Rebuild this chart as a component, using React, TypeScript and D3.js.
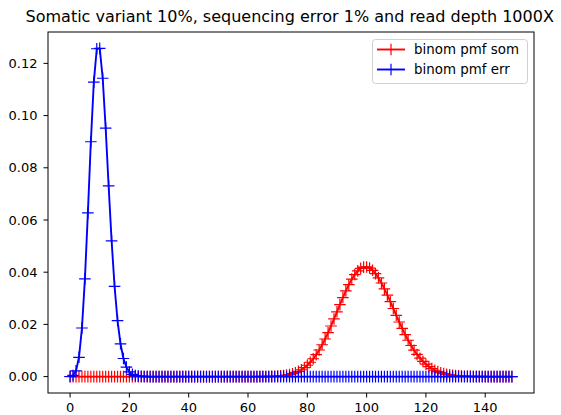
import { useEffect, useRef } from 'react';
import * as d3 from 'd3';

// read counts k = 0..149
const readCounts = d3.range(0, 150);

// binom pmf, somatic variant 10%, depth 1000
const pmfSom = [
  0, 0, 0, 0, 0, 0, 0, 0, 0, 0,
  0, 0, 0, 0, 0, 0, 0, 0, 0, 0,
  0, 0, 0, 0, 0, 0, 0, 0, 0, 0,
  0, 0, 0, 0, 0, 0, 0, 0, 0, 0,
  0, 0, 0, 0, 0, 0, 0, 0, 0, 0,
  0, 0, 0, 0, 0, 0, 0, 0, 0, 0,
  0, 0, 0, 0, 0.00001, 0.00002, 0.00004, 0.00006, 0.00009, 0.00013,
  0.0002, 0.00029, 0.00041, 0.00058, 0.00081, 0.00111, 0.0015, 0.00199, 0.00262, 0.0034,
  0.00435, 0.00549, 0.00683, 0.00839, 0.01018, 0.01219, 0.01441, 0.01682, 0.01939, 0.02208,
  0.02483, 0.02759, 0.03029, 0.03286, 0.03523, 0.03733, 0.0391, 0.04049, 0.04145, 0.04196,
  0.04201, 0.04159, 0.04073, 0.03946, 0.03782, 0.03585, 0.03364, 0.03123, 0.02869, 0.02609,
  0.02348, 0.02092, 0.01845, 0.01611, 0.01393, 0.01192, 0.01011, 0.00848, 0.00705, 0.00581,
  0.00474, 0.00383, 0.00307, 0.00243, 0.00191, 0.00149, 0.00115, 0.00088, 0.00067, 0.0005,
  0.00037, 0.00028, 0.0002, 0.00015, 0.00011, 0.00008, 0.00005, 0.00004, 0.00003, 0.00002,
  0.00001, 0, 0, 0, 0, 0, 0, 0, 0, 0,
];

// binom pmf, sequencing error 1%, depth 1000
const pmfErr = [
  0.00004, 0.00044, 0.0022, 0.00739, 0.01861, 0.03745, 0.06273, 0.08998, 0.11282, 0.12561,
  0.12574, 0.11431, 0.09516, 0.07305, 0.05202, 0.03454, 0.02148, 0.01256, 0.00693, 0.00362,
  0.00179, 0.00084, 0.00038, 0.00016, 0.00007, 0.00003, 0.00001, 0, 0, 0,
  0, 0, 0, 0, 0, 0, 0, 0, 0, 0,
  0, 0, 0, 0, 0, 0, 0, 0, 0, 0,
  0, 0, 0, 0, 0, 0, 0, 0, 0, 0,
  0, 0, 0, 0, 0, 0, 0, 0, 0, 0,
  0, 0, 0, 0, 0, 0, 0, 0, 0, 0,
  0, 0, 0, 0, 0, 0, 0, 0, 0, 0,
  0, 0, 0, 0, 0, 0, 0, 0, 0, 0,
  0, 0, 0, 0, 0, 0, 0, 0, 0, 0,
  0, 0, 0, 0, 0, 0, 0, 0, 0, 0,
  0, 0, 0, 0, 0, 0, 0, 0, 0, 0,
  0, 0, 0, 0, 0, 0, 0, 0, 0, 0,
  0, 0, 0, 0, 0, 0, 0, 0, 0, 0,
];

const xTicks = [0, 20, 40, 60, 80, 100, 120, 140];
const yTicks = [0, 0.02, 0.04, 0.06, 0.08, 0.1, 0.12];

const seriesList = [
  { name: 'binom pmf som', values: pmfSom, color: '#ff0000' },
  { name: 'binom pmf err', values: pmfErr, color: '#0000ff' },
];

const title = 'Somatic variant 10%, sequencing error 1% and read depth 1000X';

const App = () => {
  const svgRef = useRef<SVGSVGElement>(null);

  useEffect(() => {
    if (!svgRef.current) return;
    const svg = d3.select(svgRef.current);
    svg.selectAll('*').remove();

    const width = 561;
    const height = 415;
    const box = { left: 48, right: 534, top: 32, bottom: 393 };
    const font = 'DejaVu Sans, sans-serif';

    // matplotlib-style 5% margins
    const xMin = d3.min(readCounts) ?? 0;
    const xMax = d3.max(readCounts) ?? 149;
    const xPad = (xMax - xMin) * 0.05;
    const yMax = d3.max(seriesList.flatMap(s => s.values)) ?? 0.13;
    const yPad = yMax * 0.05;

    const x = d3.scaleLinear()
      .domain([xMin - xPad, xMax + xPad])
      .range([box.left, box.right]);
    const y = d3.scaleLinear()
      .domain([-yPad, yMax + yPad])
      .range([box.bottom, box.top]);

    svg.append('rect')
      .attr('width', width)
      .attr('height', height)
      .attr('fill', '#fff');

    // series: line then '+' markers
    const line = d3.line<number>()
      .x((_, i) => x(readCounts[i]))
      .y(d => y(d));

    const plot = svg.append('g');
    seriesList.forEach(s => {
      plot.append('path')
        .datum(s.values)
        .attr('d', line)
        .attr('fill', 'none')
        .attr('stroke', s.color)
        .attr('stroke-width', 1.9)
        .attr('stroke-linejoin', 'round');

      const m = 5.8;
      plot.append('path')
        .attr('d', s.values.map((v, i) => {
          const cx = x(readCounts[i]);
          const cy = y(v);
          return `M${cx - m},${cy}H${cx + m}M${cx},${cy - m}V${cy + m}`;
        }).join(''))
        .attr('fill', 'none')
        .attr('stroke', s.color)
        .attr('stroke-width', 1.2);
    });

    // frame
    svg.append('rect')
      .attr('x', box.left)
      .attr('y', box.top)
      .attr('width', box.right - box.left)
      .attr('height', box.bottom - box.top)
      .attr('fill', 'none')
      .attr('stroke', '#000')
      .attr('stroke-width', 1);

    // x axis
    const xAxis = svg.append('g');
    xTicks.forEach(t => {
      xAxis.append('line')
        .attr('x1', x(t)).attr('x2', x(t))
        .attr('y1', box.bottom).attr('y2', box.bottom + 4.5)
        .attr('stroke', '#000');
      xAxis.append('text')
        .attr('x', x(t))
        .attr('y', box.bottom + 19)
        .attr('text-anchor', 'middle')
        .attr('font-family', font)
        .attr('font-size', 13)
        .text(`${t}`);
    });

    // y axis
    const yAxis = svg.append('g');
    yTicks.forEach(t => {
      yAxis.append('line')
        .attr('x1', box.left - 4.5).attr('x2', box.left)
        .attr('y1', y(t)).attr('y2', y(t))
        .attr('stroke', '#000');
      yAxis.append('text')
        .attr('x', box.left - 10.5)
        .attr('y', y(t) + 4.7)
        .attr('text-anchor', 'end')
        .attr('font-family', font)
        .attr('font-size', 13)
        .text(d3.format('.2f')(t));
    });

    // title
    svg.append('text')
      .attr('x', 289.7)
      .attr('y', 22.3)
      .attr('text-anchor', 'middle')
      .attr('font-family', font)
      .attr('font-size', 16)
      .text(title);

    // legend
    const legend = svg.append('g');
    legend.append('rect')
      .attr('x', 372.5).attr('y', 39.5)
      .attr('width', 155).attr('height', 44)
      .attr('rx', 3)
      .attr('fill', '#fff').attr('fill-opacity', 0.8)
      .attr('stroke', '#d0d0d0');
    seriesList.forEach((s, i) => {
      const ly = 49.5 + i * 20;
      legend.append('line')
        .attr('x1', 377).attr('x2', 405)
        .attr('y1', ly).attr('y2', ly)
        .attr('stroke', s.color).attr('stroke-width', 1.9);
      legend.append('path')
        .attr('d', `M${391 - 5.8},${ly}H${391 + 5.8}M391,${ly - 5.8}V${ly + 5.8}`)
        .attr('stroke', s.color).attr('stroke-width', 1.2);
      legend.append('text')
        .attr('x', 414)
        .attr('y', ly + 4.8)
        .attr('font-family', font)
        .attr('font-size', 13.4)
        .text(s.name);
    });
  }, []);

  return (
    <svg
      ref={svgRef}
      width={561}
      height={415}
      style={{ position: 'absolute', left: 0, top: 0, display: 'block' }}
    />
  );
};

export default App;
